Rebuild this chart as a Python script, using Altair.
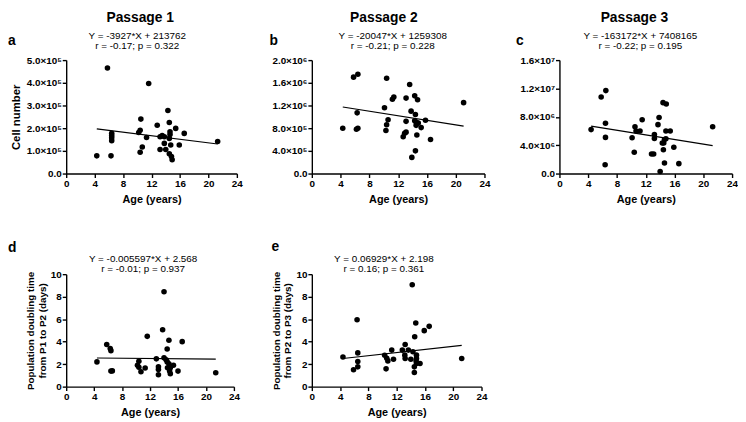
import altair as alt
import pandas as pd

# ---------------- data ----------------
# Panel a: Passage 1 cell number vs age
age_a = [4.3, 5.8, 6.3, 6.4, 6.4, 6.4, 6.4, 10.5, 10.4, 10.2, 10.4, 10.7, 11.3, 11.6,
         12.8, 13.2, 13.2, 13.5, 13.8, 13.8, 14.0, 14.3, 14.5, 14.6, 14.6, 14.5, 14.7,
         14.5, 14.8, 14.9, 15.4, 15.9, 16.6, 21.3]
cells_a = [0.78e5, 4.65e5, 0.78e5, 1.78e5, 1.68e5, 1.58e5, 1.45e5, 2.40e5, 1.91e5, 1.81e5,
           0.94e5, 1.17e5, 1.59e5, 3.97e5, 2.13e5, 1.62e5, 1.06e5, 1.67e5, 1.62e5, 1.33e5,
           1.06e5, 2.78e5, 2.25e5, 1.84e5, 1.72e5, 1.55e5, 1.26e5, 0.87e5, 0.75e5, 0.61e5,
           1.99e5, 1.26e5, 1.77e5, 1.41e5]

# Panel b: Passage 2 cell number vs age
age_b = [4.3, 5.8, 6.4, 6.3, 6.2, 6.4, 10.1, 10.3, 10.4, 10.4, 10.6, 11.2, 11.4, 12.7,
         12.9, 13.1, 13.1, 13.1, 13.6, 13.8, 13.9, 14.3, 14.3, 14.4, 14.4, 14.5, 14.5,
         14.6, 14.7, 14.8, 15.2, 15.8, 16.5, 21.1]
cells_b = [0.80e6, 1.70e6, 1.75e6, 1.07e6, 0.78e6, 0.80e6, 1.16e6, 0.76e6, 0.86e6, 1.68e6,
           0.95e6, 1.31e6, 1.35e6, 0.65e6, 0.71e6, 0.92e6, 1.33e6, 0.73e6, 1.57e6, 1.10e6,
           0.285e6, 1.37e6, 0.93e6, 0.40e6, 1.04e6, 0.91e6, 0.85e6, 0.68e6, 1.30e6, 0.89e6,
           0.81e6, 0.94e6, 0.60e6, 1.25e6]

# Panel c: Passage 3 cell number vs age
age_c = [4.4, 5.8, 6.45, 6.4, 6.4, 6.35, 10.1, 10.4, 10.5, 10.65, 11.2, 11.5, 12.8, 13.1,
         13.2, 13.2, 13.7, 13.85, 14.0, 14.3, 14.4, 14.45, 14.5, 14.6, 14.6, 14.8, 14.85,
         14.8, 15.4, 15.9, 16.6, 21.3]
cells_c = [6.2e6, 10.8e6, 11.7e6, 7.1e6, 5.1e6, 1.25e6, 5.05e6, 3.0e6, 6.6e6, 6.0e6,
           6.0e6, 7.6e6, 2.75e6, 2.75e6, 5.5e6, 4.95e6, 6.9e6, 7.9e6, 0.3e6, 4.3e6,
           10.0e6, 3.35e6, 4.3e6, 4.8e6, 1.5e6, 6.0e6, 9.8e6, 4.9e6, 6.0e6, 3.7e6,
           1.4e6, 6.6e6]

# Panel d: population doubling time P1 -> P2 (days)
age_d = [4.4, 5.8, 6.3, 6.4, 6.4, 6.6, 10.2, 10.4, 10.4, 10.7, 11.3, 11.6, 12.9, 13.2,
         13.2, 13.2, 13.8, 14.0, 14.0, 14.3, 14.45, 14.45, 14.5, 14.7, 14.7, 14.8, 14.9,
         14.9, 15.35, 16.0, 16.6, 21.4]
pdt_d = [2.2, 3.74, 3.38, 3.2, 1.38, 1.4, 1.9, 2.26, 1.73, 1.32, 1.65, 4.47, 2.47, 1.76,
         1.53, 1.06, 5.06, 2.56, 8.44, 2.38, 3.35, 2.2, 1.68, 4.12, 2.03, 1.38, 1.15,
         1.68, 1.9, 1.38, 4.0, 1.24]

# Panel e: population doubling time P2 -> P3 (days)
age_e = [4.4, 5.9, 6.4, 6.5, 6.5, 6.5, 10.3, 10.5, 10.6, 10.75, 11.3, 11.55, 12.8, 13.2,
         13.15, 13.2, 13.65, 14.0, 14.2, 14.3, 14.5, 14.5, 14.55, 14.7, 14.8, 14.8, 14.8,
         14.75, 15.3, 15.9, 16.6, 21.2]
pdt_e = [2.64, 1.5, 5.95, 3.0, 2.23, 1.76, 2.79, 1.58, 2.52, 2.29, 3.25, 2.43, 3.25, 3.75,
         2.8, 2.5, 3.25, 2.43, 9.06, 3.1, 1.76, 1.26, 4.43, 5.66, 2.8, 2.5, 2.05,
         2.29, 2.05, 4.98, 5.36, 2.5]

# Linear fits shown on the figure
slopes = [-3927, -20047, -163172, -0.005597, 0.06929]
intercepts = [213762, 1259308, 7408165, 2.568, 2.198]
equations = ["Y = -3927*X + 213762", "Y = -20047*X + 1259308", "Y = -163172*X + 7408165",
             "Y = -0.005597*X + 2.568", "Y = 0.06929*X + 2.198"]
stats = ["r = -0.17; p = 0.322", "r = -0.21; p = 0.228", "r = -0.22; p = 0.195",
         "r = -0.01; p = 0.937", "r = 0.16; p = 0.361"]
letters = ["a", "b", "c", "d", "e"]
headers = ["Passage 1", "Passage 2", "Passage 3"]

x_ticks = [0, 4, 8, 12, 16, 20, 24]
y_ticks = [
    [0, 1e5, 2e5, 3e5, 4e5, 5e5],
    [0, 4e5, 8e5, 1.2e6, 1.6e6, 2.0e6],
    [0, 4e6, 8e6, 1.2e7, 1.6e7],
    [0, 2, 4, 6, 8, 10],
    [0, 2, 4, 6, 8, 10],
]
y_labels = [
    ["0.0", "1.0×10⁵", "2.0×10⁵", "3.0×10⁵", "4.0×10⁵", "5.0×10⁵"],
    ["0.0", "4.0×10⁵", "8.0×10⁵", "1.2×10⁶", "1.6×10⁶", "2.0×10⁶"],
    ["0.0", "4.0×10⁶", "8.0×10⁶", "1.2×10⁷", "1.6×10⁷"],
    ["0", "2", "4", "6", "8", "10"],
    ["0", "2", "4", "6", "8", "10"],
]
y_titles = ["Cell number", "", "",
            ["Population doubling time", "from P1 to P2 (days)"],
            ["Population doubling time", "from P2 to P3 (days)"]]

FONT = "Liberation Sans"


def label_expr(ticks, labels):
    expr = "''"
    for t, l in reversed(list(zip(ticks, labels))):
        expr = f"datum.value == {t:.0f} ? '{l}' : ({expr})"
    return expr


def panel(i, ages, vals, w, h, lay):
    pts = pd.DataFrame({"age": ages, "v": vals})
    x0, x1 = min(ages), max(ages)
    fit = pd.DataFrame({"age": [x0, x1],
                        "v": [slopes[i] * x0 + intercepts[i], slopes[i] * x1 + intercepts[i]]})
    ymax = y_ticks[i][-1]
    xenc = alt.X("age:Q", scale=alt.Scale(domain=[0, 24], nice=False),
                 axis=alt.Axis(values=x_ticks, title="Age (years)", titlePadding=5,
                               labelOverlap=False, labelFlush=False))
    yenc = alt.Y("v:Q", scale=alt.Scale(domain=[0, ymax], nice=False),
                 axis=alt.Axis(values=y_ticks[i], labelExpr=label_expr(y_ticks[i], y_labels[i]),
                               title=y_titles[i], titlePadding=lay["tp"],
                               titleFontSize=lay["tfs"], labelOverlap=False, labelFlush=False))
    points = alt.Chart(pts).mark_circle(size=32, color="black", opacity=1).encode(x=xenc, y=yenc)
    line = alt.Chart(fit).mark_line(color="black", strokeWidth=1.2).encode(x=xenc, y=yenc)

    txt = pd.DataFrame({"eq": [equations[i]], "st": [stats[i]], "lt": [letters[i]]})
    eq = alt.Chart(txt).mark_text(font=FONT, fontSize=10, color="black").encode(
        x=alt.value(lay["ex"]), y=alt.value(lay["ey1"]), text="eq:N")
    st = alt.Chart(txt).mark_text(font=FONT, fontSize=10, color="black").encode(
        x=alt.value(lay["ex"]), y=alt.value(lay["ey2"]), text="st:N")
    lt = alt.Chart(txt).mark_text(font=FONT, fontSize=14, fontWeight="bold", color="black",
                                  align="left").encode(
        x=alt.value(lay["lx"]), y=alt.value(lay["ly"]), text="lt:N")
    layers = [points, line, eq, st, lt]
    if i < 3:
        hd = pd.DataFrame({"hd": [headers[i]]})
        layers.append(alt.Chart(hd).mark_text(font=FONT, fontSize=14, fontWeight="bold",
                                              color="black").encode(
            x=alt.value(lay["hx"]), y=alt.value(-43), text="hd:N"))
    return alt.layer(*layers).properties(width=w, height=h)


pa = panel(0, age_a, cells_a, 173, 115,
           dict(tp=5, tfs=11.5, ex=72, ey1=-24, ey2=-14, lx=-59, ly=-19, hx=75))
pb = panel(1, age_b, cells_b, 175, 115,
           dict(tp=5, tfs=11, ex=82, ey1=-24, ey2=-14, lx=-43, ly=-19, hx=73))
pc = panel(2, age_c, cells_c, 175, 115,
           dict(tp=5, tfs=11, ex=82, ey1=-24, ey2=-14, lx=-44, ly=-19, hx=76))
pd_ = panel(3, age_d, pdt_d, 170, 114,
            dict(tp=3, tfs=10, ex=78, ey1=-15, ey2=-5, lx=-59, ly=-26))
pe = panel(4, age_e, pdt_e, 172, 114,
           dict(tp=3, tfs=10, ex=73, ey1=-15, ey2=-5, lx=-41, ly=-27))

chart = alt.concat(pa, pb, pc, pd_, pe, columns=3,
                   spacing={"row": 102, "column": 76}, bounds="flush").properties(
    padding=0
).configure_view(stroke=None).configure_axis(
    grid=False,
    domainColor="black", domainWidth=1.4,
    tickColor="black", tickWidth=1.4, tickSize=4,
    labelFont=FONT, labelFontWeight="bold", labelFontSize=10, labelColor="black",
    labelPadding=1,
    titleFont=FONT, titleFontWeight="bold", titleFontSize=11, titleColor="black",
)

chart.save("out.html", embed_options={"renderer": "svg", "actions": False})
